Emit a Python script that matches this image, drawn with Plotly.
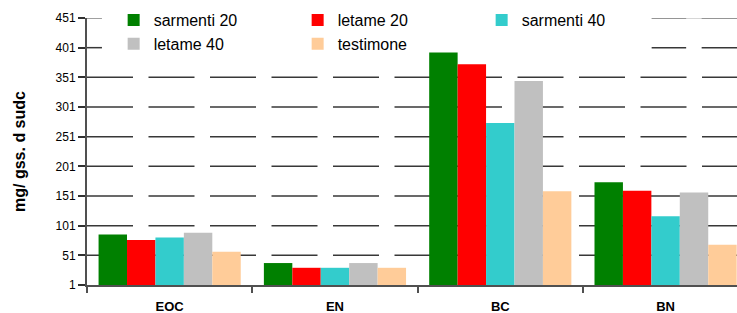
import plotly.graph_objects as go

categories = ["EOC", "EN", "BC", "BN"]
series_names = ["sarmenti 20", "letame 20", "sarmenti 40", "letame 40", "testimone"]
sarmenti_20 = [86, 38, 393, 174]
letame_20 = [77, 30, 373, 160]
sarmenti_40 = [81, 30, 274, 117]
letame_40 = [89, 38, 345, 157]
testimone = [57, 30, 159, 69]
tick_vals = [1, 51, 101, 151, 201, 251, 301, 351, 401, 451]
colors = ["#008000", "#FF0000", "#33CCCC", "#C0C0C0", "#FFCC99"]

series_values = [sarmenti_20, letame_20, sarmenti_40, letame_40, testimone]

FONT = "Arial, Liberation Sans, sans-serif"
DASH = "46px,15.5px"
DASH_SHIFTED = "34.5px,15.5px,46px,15.5px"
LEG_L, LEG_R = 0.023, 0.8687  # legend area (no gridlines there)

fig = go.Figure()
for name, vals, col in zip(series_names, series_values, colors):
    fig.add_trace(go.Bar(x=categories, y=vals, name=name, marker=dict(color=col, line=dict(width=0))))

top = tick_vals[-1]
for v in tick_vals[1:]:
    col = "#808080" if v == top else "#383838"
    if v < tick_vals[-2]:
        fig.add_shape(type="line", xref="paper", yref="y", x0=0, x1=1, y0=v, y1=v,
                      line=dict(color=col, width=1.5, dash=DASH), layer="below")
    else:
        # gridlines interrupted by the legend
        fig.add_shape(type="line", xref="paper", yref="y", x0=0, x1=LEG_L, y0=v, y1=v,
                      line=dict(color=col, width=1.5), layer="below")
        if v == top:
            fig.add_shape(type="line", xref="paper", yref="y", x0=LEG_R, x1=1, y0=v, y1=v,
                          line=dict(color="#C8C8C8", width=1.5), layer="below")
        fig.add_shape(type="line", xref="paper", yref="y", x0=LEG_R, x1=1, y0=v, y1=v,
                      line=dict(color=col, width=1.5, dash=DASH_SHIFTED), layer="below")

fig.update_layout(
    width=737, height=313,
    margin=dict(l=87, r=0, t=18, b=28, autoexpand=False),
    paper_bgcolor="white", plot_bgcolor="rgba(0,0,0,0)",
    barmode="group", bargap=0.14, bargroupgap=0,
    font=dict(family=FONT, color="black"),
    legend=dict(
        orientation="h",
        x=0.041, y=1.056, xanchor="left", yanchor="top",
        bgcolor="rgba(0,0,0,0)", entrywidth=139, entrywidthmode="pixels",
        font=dict(size=16, family=FONT), traceorder="normal",
        itemclick=False, tracegroupgap=0,
    ),
    showlegend=True,
)
fig.update_xaxes(
    range=[-0.5, 3.432], showline=True, linecolor="#505050", linewidth=2,
    ticks="outside", tickson="boundaries", ticklen=6, tickcolor="#505050", tickwidth=2,
    tickfont=dict(size=13, family=FONT, color="black", weight="bold"),
    ticklabelstandoff=8,
    showgrid=False,
)
fig.update_yaxes(
    range=[1, 451], tickvals=tick_vals, ticktext=[str(v) for v in tick_vals],
    showline=True, linecolor="#505050", linewidth=2,
    ticks="outside", ticklen=7, tickcolor="#303030", tickwidth=1.5,
    tickfont=dict(size=12, family=FONT, color="black"),
    showgrid=False, zeroline=False,
    title=dict(text="mg/ gss. d sudc", font=dict(size=16, family=FONT, color="black", weight="bold"), standoff=26),
)

fig.write_html("out.html", config={"displayModeBar": False},
               post_script="document.body.style.margin='0px';document.body.style.overflow='hidden';")
